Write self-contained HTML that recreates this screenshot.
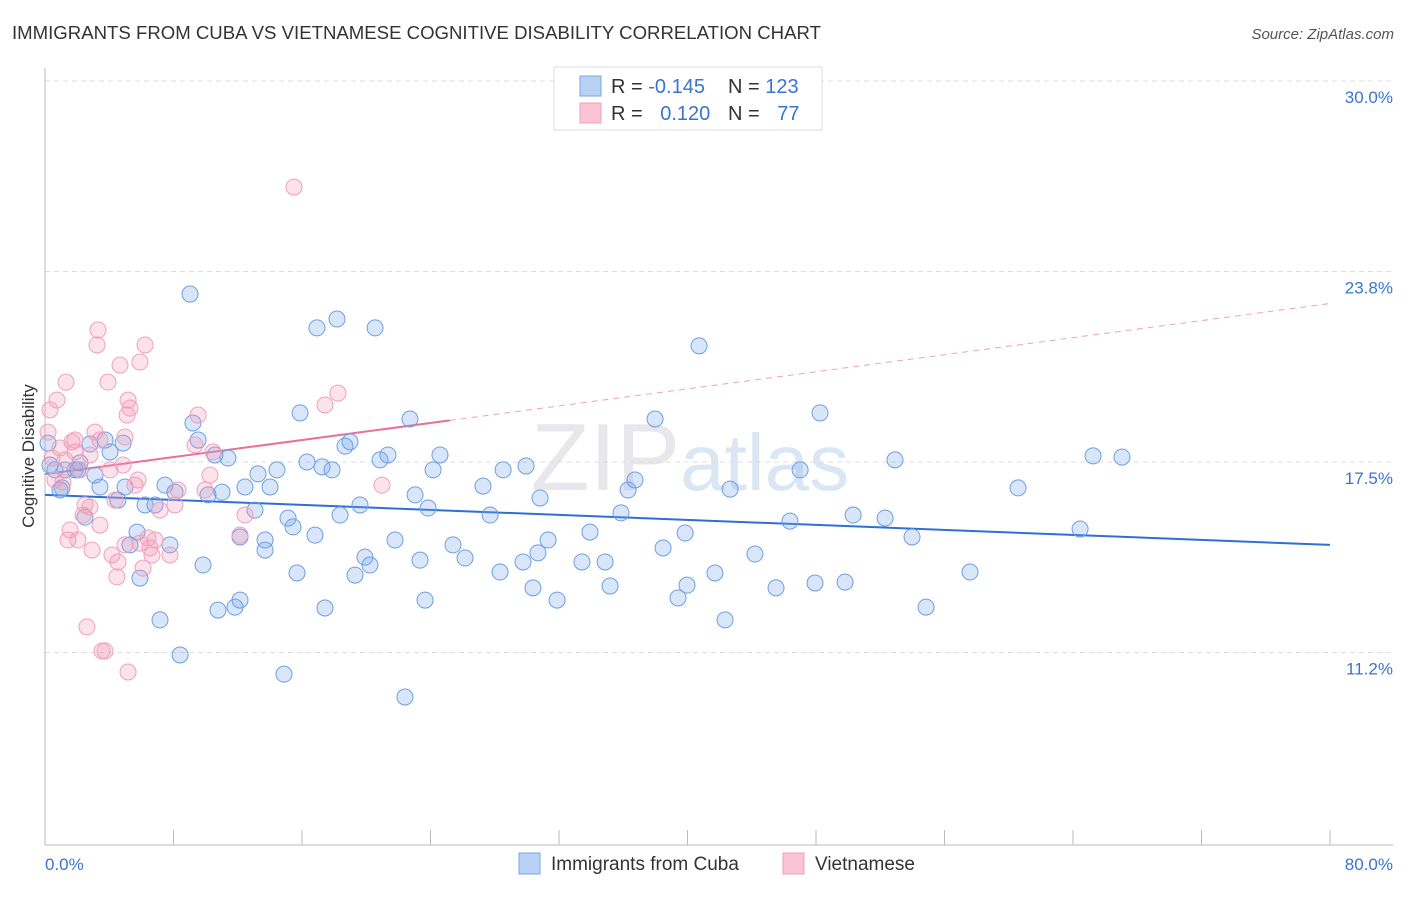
<!DOCTYPE html>
<html><head><meta charset="utf-8"><style>
body{margin:0;background:#fff;font-family:"Liberation Sans",sans-serif;}
svg text{font-family:"Liberation Sans",sans-serif;}
</style></head><body>
<svg id="chart" width="1406" height="892" xmlns="http://www.w3.org/2000/svg">
<text x="12" y="39" font-size="18.6" fill="#333">IMMIGRANTS FROM CUBA VS VIETNAMESE COGNITIVE DISABILITY CORRELATION CHART</text>
<text x="1394" y="39" font-size="15" fill="#555" text-anchor="end" font-style="italic">Source: ZipAtlas.com</text>
<text x="690" y="490" font-size="96" fill="#e8e8ec" text-anchor="middle" font-family="Liberation Serif">ZIP<tspan fill="#dbe6f5" font-family="Liberation Sans" font-size="80">atlas</tspan></text>
<text transform="translate(34,456) rotate(-90)" font-size="17" fill="#333" text-anchor="middle">Cognitive Disability</text>
<g id="grid"></g><g id="axes"></g><g id="trend"></g><g id="points"></g>
<g>
<rect x="554" y="67" width="268" height="63" fill="#fff" stroke="#ddd"/>
<rect x="580" y="76" width="21" height="20" fill="#b8d1f5" stroke="#7aa6e6"/>
<text x="611" y="93" font-size="20" fill="#333">R = <tspan fill="#3a74d0">-0.145</tspan></text>
<text x="728" y="93" font-size="20" fill="#333">N = <tspan fill="#3a74d0">123</tspan></text>
<rect x="580" y="103" width="21" height="20" fill="#fac4d4" stroke="#f0a0b8"/>
<text x="611" y="120" font-size="20" fill="#333">R = <tspan fill="#3a74d0" dx="12">0.120</tspan></text>
<text x="728" y="120" font-size="20" fill="#333">N = <tspan fill="#3a74d0" dx="12">77</tspan></text>
</g>
<g>
<rect x="519" y="853" width="21" height="21" fill="#b8d1f5" stroke="#7aa6e6"/>
<text x="551" y="870" font-size="19" fill="#333">Immigrants from Cuba</text>
<rect x="783" y="853" width="21" height="21" fill="#fac4d4" stroke="#f0a0b8"/>
<text x="815" y="870" font-size="19" fill="#333">Vietnamese</text>
</g>
</svg>
<script>
const yTicks=[30.0,23.75,17.5,11.25];
const yTickLabels=["30.0%","23.8%","17.5%","11.2%"];
const xEndLabels=["0.0%","80.0%"];
const cubaX=[0.19,0.31,0.62,0.93,1.06,1.25,1.87,2.05,2.18,2.49,2.80,3.11,3.42,3.74,4.05,4.54,4.86,4.98,5.29,5.73,5.91,6.23,6.85,7.16,7.47,7.78,8.09,8.41,9.03,9.21,9.53,9.84,10.15,10.58,10.77,11.02,11.39,11.83,12.14,12.14,12.45,13.07,13.26,13.70,13.70,14.01,14.44,14.88,15.13,15.44,15.69,15.88,16.31,16.81,16.93,17.25,17.43,17.87,18.18,18.37,18.68,18.99,19.30,19.61,19.92,20.23,20.55,20.86,21.35,21.79,22.41,22.72,23.04,23.35,23.66,23.85,24.16,24.59,25.40,26.15,27.27,27.71,28.33,28.52,29.76,29.95,30.38,30.69,30.82,31.32,31.88,33.43,33.93,34.87,35.18,35.86,36.30,36.73,37.98,38.48,39.41,39.85,39.97,40.72,41.71,42.34,42.65,44.20,45.51,46.38,47.01,47.94,48.25,49.81,50.31,52.30,52.92,53.98,54.85,57.59,60.58,64.44,65.25,67.05];
const cubaY=[18.12,17.40,17.24,16.58,16.65,17.24,17.24,17.24,17.47,15.69,18.09,17.07,16.68,18.22,17.83,16.25,18.12,16.68,14.78,15.20,13.69,16.09,16.09,12.32,16.74,14.78,16.51,11.17,23.01,18.78,18.22,14.12,16.42,17.73,12.64,16.51,17.63,12.74,12.97,15.04,16.68,15.92,17.11,14.61,14.94,16.68,17.24,10.54,15.66,15.37,13.86,19.11,17.50,15.10,21.90,17.34,12.71,17.24,22.19,15.76,18.02,18.16,13.79,16.09,14.38,14.12,21.90,17.57,17.73,14.94,9.79,18.91,16.42,14.28,12.97,15.99,17.24,17.73,14.78,14.35,16.71,15.76,13.89,17.24,14.22,17.37,13.37,14.52,16.32,14.94,12.97,14.22,15.20,14.22,13.43,15.83,16.58,16.91,18.91,14.68,13.04,15.17,13.46,21.31,13.86,12.32,16.61,14.48,13.37,15.56,17.24,13.53,19.11,13.56,15.76,15.66,17.57,15.04,12.74,13.89,16.65,15.30,17.70,17.66];
const vietX=[0.19,0.31,0.44,0.62,0.75,0.93,1.12,1.31,1.43,1.56,1.68,1.87,2.05,2.18,2.37,2.49,2.61,2.80,2.93,3.11,3.24,3.30,3.42,3.55,3.74,3.92,4.05,4.17,4.36,4.48,4.54,4.67,4.86,4.98,5.11,5.17,5.29,5.60,5.79,5.91,6.10,6.23,6.41,6.54,6.66,6.85,7.16,7.78,8.09,8.28,9.34,9.53,9.96,10.27,10.46,12.14,12.45,15.50,17.43,18.24,20.98,5.17,1.87,1.25,2.80,3.42,5.91,4.98];
const vietY=[18.48,19.21,17.63,16.91,19.53,17.96,16.84,20.12,14.94,15.27,18.16,17.83,14.94,17.24,15.76,16.09,12.09,16.02,14.61,18.48,21.34,21.83,15.43,11.30,11.30,20.12,17.24,14.45,16.25,13.73,14.22,20.68,17.40,14.78,19.04,19.53,19.27,16.74,16.91,14.84,14.02,21.34,15.01,14.68,14.45,14.94,15.92,14.45,16.09,16.58,18.06,19.04,16.58,17.07,17.83,15.10,15.76,26.52,19.37,19.76,16.74,10.61,18.22,17.57,17.73,18.22,20.78,18.32];
const cubaTrend=[16.42,14.78];
const vietTrend=[17.1,22.7];
const vietSolidEnd=25.2;

const NS="http://www.w3.org/2000/svg";
const X0=45,X1=1330,Y30=81,PXPER=30.48;
const sx=v=>X0+(v/80)*(X1-X0);
const sy=v=>Y30+(30-v)*PXPER;
function mk(tag,attrs,parent){const e=document.createElementNS(NS,tag);for(const k in attrs)e.setAttribute(k,attrs[k]);parent.appendChild(e);return e;}
const grid=document.getElementById('grid'),axes=document.getElementById('axes'),trend=document.getElementById('trend'),pts=document.getElementById('points');
yTicks.forEach((t,i)=>{
 const l=mk('line',{x1:X0,x2:1393,y1:sy(t),y2:sy(t),stroke:'#ddd','stroke-dasharray':'5,4'},grid);
 
 
 const tx=mk('text',{x:1393,y:sy(t)+22,'font-size':17,fill:'#3a74d0','text-anchor':'end'},grid);
 tx.textContent=yTickLabels[i];
 
 
});
const ax=mk('line',{x1:X0,x2:X0,y1:68,y2:845,stroke:'#bbb'},axes);


const bx=mk('line',{x1:X0,x2:1393,y1:845,y2:845,stroke:'#bbb'},axes);


for(let v=0;v<=80;v+=8){
 const t=mk('line',{x1:sx(v),x2:sx(v),y1:830,y2:845,stroke:'#bbb'},axes);
 
 
}
const xl0=mk('text',{x:45,y:870,'font-size':17,fill:'#3a74d0'},axes);xl0.textContent=xEndLabels[0];


const xl1=mk('text',{x:1393,y:870,'font-size':17,fill:'#3a74d0','text-anchor':'end'},axes);xl1.textContent=xEndLabels[1];



cubaX.forEach((x,i)=>{
 const c=mk('circle',{cx:sx(x),cy:sy(cubaY[i]),r:8,fill:'rgba(120,165,235,0.28)',stroke:'#6d9fe2','stroke-width':1},pts);
 
 
});
vietX.forEach((x,i)=>{
 const c=mk('circle',{cx:sx(x),cy:sy(vietY[i]),r:8,fill:'rgba(245,150,180,0.28)',stroke:'#f0a0bc','stroke-width':1},pts);
 
 
});
const tb=mk('line',{x1:sx(0),y1:sy(cubaTrend[0]),x2:sx(80),y2:sy(cubaTrend[1]),stroke:'#2f6fd6','stroke-width':2},trend);


const vm=vietTrend[0]+(vietTrend[1]-vietTrend[0])*vietSolidEnd/80;
const tp=mk('line',{x1:sx(0),y1:sy(vietTrend[0]),x2:sx(vietSolidEnd),y2:sy(vm),stroke:'#e8709a','stroke-width':2},trend);


const td=mk('line',{x1:sx(vietSolidEnd),y1:sy(vm),x2:sx(80),y2:sy(vietTrend[1]),stroke:'#f0a0bc','stroke-width':1,'stroke-dasharray':'6,5'},trend);


</script>
</body></html>
